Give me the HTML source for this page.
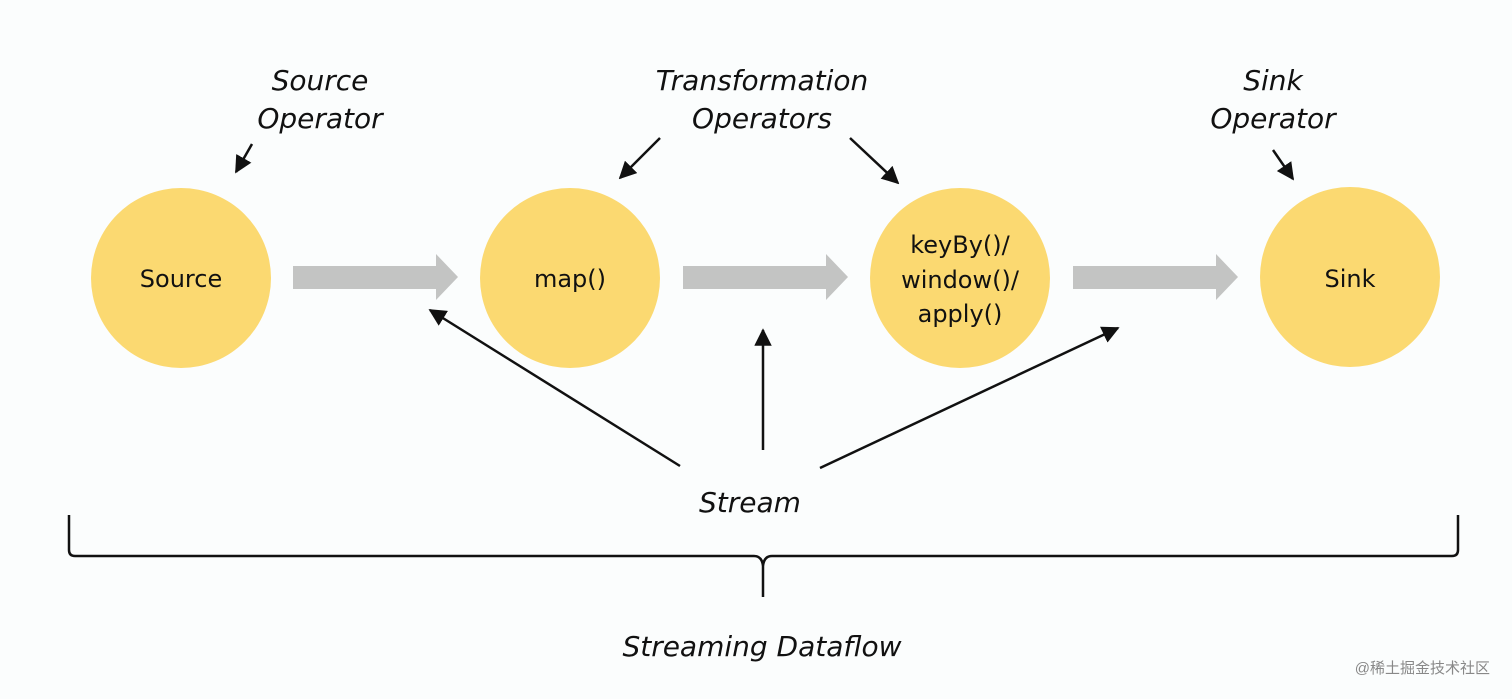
<!DOCTYPE html>
<html><head><meta charset="utf-8"><style>
html,body{margin:0;padding:0;background:#fbfdfd;}
svg{display:block}
text{font-family:"DejaVu Sans","Liberation Sans",sans-serif;fill:#111;}
.l{font-style:italic;font-size:28px;}
.c{font-size:24px;}
</style></head><body>
<svg width="1512" height="699" viewBox="0 0 1512 699">
<defs><marker id="a" viewBox="0 0 10 10" refX="9" refY="5" markerWidth="7" markerHeight="7" orient="auto"><path d="M0,0 L10,5 L0,10 z" fill="#111"/></marker></defs>
<g fill="#fbd971">
<circle cx="181" cy="278" r="90"/><circle cx="570" cy="278" r="90"/>
<circle cx="960" cy="278" r="90"/><circle cx="1350" cy="277" r="90"/>
</g>
<g fill="#c3c4c3">
<path d="M293,266 H436 V254 L458,277 L436,300 V289 H293 z"/>
<path d="M683,266 H826 V254 L848,277 L826,300 V289 H683 z"/>
<path d="M1073,266 H1216 V254 L1238,277 L1216,300 V289 H1073 z"/>
</g>
<g class="c" text-anchor="middle">
<text x="181" y="287">Source</text>
<text x="570" y="287">map()</text>
<text x="960" y="253">keyBy()/</text>
<text x="960" y="288">window()/</text>
<text x="960" y="322">apply()</text>
<text x="1350" y="287">Sink</text>
</g>
<g class="l" text-anchor="middle">
<text x="320" y="90">Source</text><text x="320" y="128">Operator</text>
<text x="762" y="90">Transformation</text><text x="762" y="128">Operators</text>
<text x="1273" y="90">Sink</text><text x="1273" y="128">Operator</text>
<text x="750" y="512">Stream</text>
<text x="762" y="656">Streaming Dataflow</text>
</g>
<g stroke="#111" stroke-width="2.5" fill="none" marker-end="url(#a)">
<line x1="252" y1="144" x2="236" y2="172"/>
<line x1="660" y1="138" x2="620" y2="178"/>
<line x1="850" y1="138" x2="898" y2="183"/>
<line x1="1273" y1="150" x2="1293" y2="179"/>
<line x1="680" y1="466" x2="430" y2="310"/>
<line x1="763" y1="450" x2="763" y2="330"/>
<line x1="820" y1="468" x2="1118" y2="328"/>
</g>
<path d="M69,515 V550 Q69,556 75,556 H754 Q762,556 763,566 V597 M763,597 V566 Q764,556 772,556 H1452 Q1458,556 1458,550 V515" stroke="#111" stroke-width="2.5" fill="none"/>
<text x="1490" y="673" text-anchor="end" style="font-family:'Liberation Sans','Noto Sans CJK SC',sans-serif;font-size:15px;fill:#888">@稀土掘金技术社区</text>
</svg>
</body></html>
